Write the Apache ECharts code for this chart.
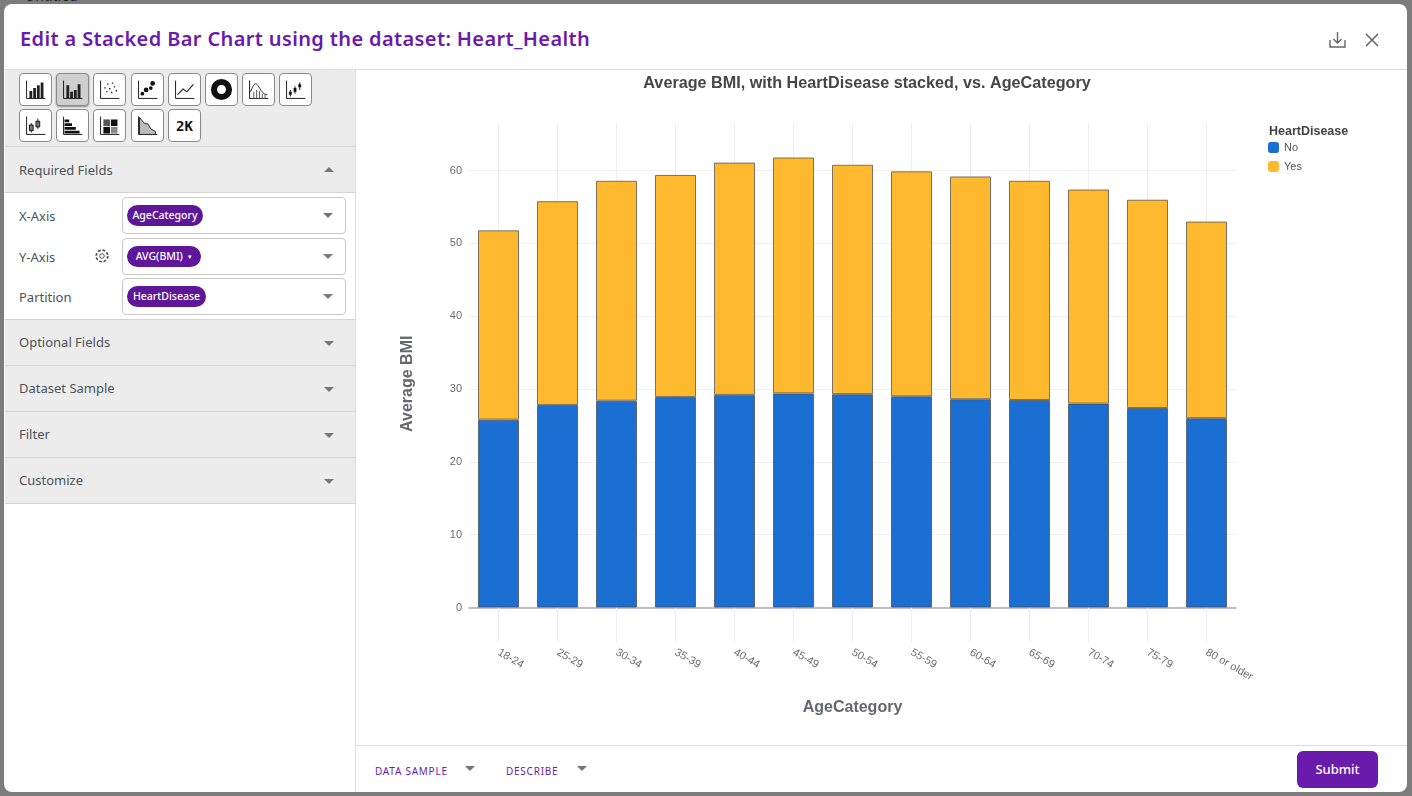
<!DOCTYPE html>
<html>
<head>
<meta charset="utf-8">
<script src="https://cdn.jsdelivr.net/npm/echarts@6/dist/echarts.min.js"></script>
<style>
html, body { margin: 0; padding: 0; width: 1412px; height: 796px; overflow: hidden; background: #7c7c7c; font-family: "Noto Sans", sans-serif; }
.abs { position: absolute; }
#modal { left: 4px; top: 4px; width: 1403px; height: 788px; background: #fff; border-radius: 8px; }
#heading { left: 20px; top: 25px; font-size: 20px; font-weight: 600; color: #6a1bab; letter-spacing: 0.37px; white-space: nowrap; line-height: 28px; }
#side { left: 5px; top: 70px; width: 350px; height: 434px; background: #ececec; }
.line { background: #dcdcdc; }
.ibtn { width: 31px; height: 31px; border: 1px solid #8a8a8a; border-radius: 4px; background: #fff; }
.ibtn.on { background: #cfcfcf; box-shadow: 0 1px 2px #888; }
.ibtn svg { display: block; }
.sec { left: 19px; font-size: 13px; color: #4c5358; line-height: 20px; white-space: nowrap; }
.tri { width: 0; height: 0; border-left: 5px solid transparent; border-right: 5px solid transparent; border-top: 5px solid #777; }
.tri.up { border-top: 0; border-bottom: 5px solid #777; }
.box { left: 122px; width: 222px; border: 1px solid #c9c9c9; border-radius: 4px; background: #fff; }
.pill { background: #5f1799; color: #fff; font-size: 10.5px; font-weight: 500; height: 21px; line-height: 21px; border-radius: 11px; white-space: nowrap; text-align: center; }
.foot { font-size: 10px; letter-spacing: 0.75px; color: #6a1bab; white-space: nowrap; line-height: 14px; }
#submit { left: 1297px; top: 751px; width: 81px; height: 37px; background: #6a1bab; color: #fff; border-radius: 6px; font-size: 13px; font-weight: 500; line-height: 37px; text-align: center; }
#main { left: 356px; top: 70px; width: 1051px; height: 675px; }
</style>
</head>
<body>
<div class="abs" style="left:25px;top:-14px;font-size:14px;color:#222">Untitled</div>
<div class="abs" id="modal"></div>
<div class="abs" id="heading">Edit a Stacked Bar Chart using the dataset: Heart_Health</div>
<svg class="abs" style="left:1328px;top:30px" width="20" height="20" fill="none" stroke="#666" stroke-width="1.4"><path d="M2 10v7h15v-7M9.5 2v11M5.5 9l4 4 4-4"/></svg>
<svg class="abs" style="left:1364px;top:32px" width="16" height="16" fill="none" stroke="#666" stroke-width="1.5"><path d="M2 2l12 12M14 2L2 14"/></svg>
<div class="abs line" style="left:4px;top:69px;width:1403px;height:1px"></div>
<div class="abs" id="side"></div>
<div class="abs line" style="left:355px;top:70px;width:1px;height:722px"></div>
<div class="abs line" style="left:356px;top:745px;width:1051px;height:1px"></div>
<div id="ui"></div>
<div class="abs foot" style="left:375px;top:764px">DATA SAMPLE</div>
<div class="abs tri" style="left:465px;top:766px"></div>
<div class="abs foot" style="left:506px;top:764px">DESCRIBE</div>
<div class="abs tri" style="left:577px;top:766px"></div>
<div class="abs" id="submit">Submit</div>
<div class="abs" id="main"></div>
<script>
// chart data
var ageCategories = ['18-24', '25-29', '30-34', '35-39', '40-44', '45-49', '50-54', '55-59', '60-64', '65-69', '70-74', '75-79', '80 or older'];
var noValues = [25.8, 27.8, 28.4, 28.9, 29.2, 29.4, 29.3, 29.0, 28.6, 28.5, 28.0, 27.4, 26.0];
var yesValues = [26.0, 28.0, 30.2, 30.5, 31.9, 32.4, 31.5, 30.9, 30.6, 30.1, 29.4, 28.6, 27.0];

// side panel
var axisL = '<path d="M7 7v19h20" fill="none" stroke="#111" stroke-width="1"/>';
var icons = [
    axisL + '<path d="M10 18h3v8h-3zM14 15h3v11h-3zM18 12h3v14h-3zM22 9h3v17h-3z" fill="#222"/>',
    axisL + '<path d="M10 12h3v14h-3zM14 19h3v7h-3zM18 17h3v9h-3zM22 11h3v15h-3z" fill="#222"/>',
    axisL + '<path d="M11 14h1.5v1.5h-1.5zM14 10h1.5v1.5h-1.5zM16 15h1.5v1.5h-1.5zM19 9h1.5v1.5h-1.5zM21 13h1.5v1.5h-1.5zM23 17h1.5v1.5h-1.5zM13 18h1.5v1.5h-1.5zM18 19h1.5v1.5h-1.5z" fill="#222"/>',
    axisL + '<g fill="#111"><circle cx="11" cy="21" r="2"/><circle cx="15" cy="17" r="2.5"/><circle cx="20" cy="15" r="2"/><circle cx="22" cy="10" r="2.5"/></g>',
    axisL + '<path d="M9 22l6-6 4 3 7-8" fill="none" stroke="#222" stroke-width="1.2"/>',
    '<circle cx="16.5" cy="16.5" r="8" fill="none" stroke="#111" stroke-width="6.5"/>',
    axisL + '<path d="M8 19c4-11 6-10 9-5s5 8 9 8" fill="none" stroke="#222"/><path d="M11 19h1v7h-1zM14 17h1v9h-1zM17 18h1v8h-1zM20 21h1v5h-1zM23 22h1v4h-1z" fill="#555"/>',
    axisL + '<path d="M11 17v7M16 13v8M21 9v8" stroke="#111"/><path d="M9.5 19h3v3h-3zM14.5 15h3v4h-3zM19.5 11h3v3h-3z" fill="#111"/>',
    axisL + '<path d="M12 14v10M19 9v11" stroke="#111"/><path d="M10 16h4v6h-4zM17 12h4v6h-4z" fill="#777" stroke="#111"/>',
    axisL + '<path d="M8 10h5v3H8zM8 14h8v3H8zM8 18h12v3H8zM8 22h16v3H8z" fill="#111"/>',
    axisL + '<path d="M10 10h7v7h-7z" fill="#555"/><path d="M18 10h7v7h-7zM10 18h7v7h-7z" fill="#111"/><path d="M18 18h7v7h-7z" fill="#888"/>',
    axisL + '<path d="M8 8l5 6 4 1 3 5 5 3v3H8z" fill="#bbb" stroke="#222"/>',
    '<text x="16.5" y="22" text-anchor="middle" font-family="DejaVu Sans Mono" font-weight="bold" font-size="15" fill="#111">2K</text>'
];
var iconX = [19, 56, 93, 131, 168, 205, 242, 279, 19, 56, 93, 131, 168];
var sections = [['Optional Fields', 342], ['Dataset Sample', 388], ['Filter', 434], ['Customize', 480]];
var html = '';
icons.forEach(function(svg, i) {
    html += '<div class="abs ibtn' + (i == 1 ? ' on' : '') + '" style="left:' + iconX[i] + 'px;top:' + (i < 8 ? 73 : 109) + 'px"><svg width="31" height="31" viewBox="0 0 33 33">' + svg + '</svg></div>';
});
[146, 319, 365, 411, 457, 503].forEach(function(y) {
    html += '<div class="abs" style="left:5px;top:' + y + 'px;width:350px;height:1px;background:#d4d4d4"></div>';
});
html += '<div class="abs" style="left:5px;top:192px;width:350px;height:127px;background:#fff;border-top:1px solid #d4d4d4;box-sizing:border-box"></div>';
html += '<div class="abs sec" style="top:160px">Required Fields</div><div class="abs tri up" style="left:324px;top:167px"></div>';
sections.forEach(function(s) {
    html += '<div class="abs sec" style="top:' + (s[1] - 10) + 'px">' + s[0] + '</div><div class="abs tri" style="left:324px;top:' + (s[1] - 1) + 'px"></div>';
});
[['X-Axis', 197, 'AgeCategory', 76], ['Y-Axis', 238, 'AVG(BMI)', 74], ['Partition', 278, 'HeartDisease', 79]].forEach(function(f) {
    html += '<div class="abs sec" style="top:' + (f[1] + 9) + 'px">' + f[0] + '</div>';
    html += '<div class="abs box" style="top:' + f[1] + 'px;height:' + 35 + 'px"></div>';
    html += '<div class="abs pill" style="left:127px;top:' + (f[1] + 8) + 'px;width:' + f[3] + 'px">' + f[2] + (f[3] == 74 ? ' &nbsp;<span style="font-size:7px;vertical-align:1px">&#9662;</span>' : '') + '</div>';
    html += '<div class="abs tri" style="left:323px;top:' + (f[1] + 16) + 'px"></div>';
});
html += '<svg class="abs" style="left:94px;top:248px" width="16" height="16" fill="none" stroke="#555"><circle cx="8" cy="8" r="2.3"/><circle cx="8" cy="8" r="5.8" stroke-width="1.8" stroke-dasharray="2.8 1.7"/></svg>';
document.getElementById('ui').innerHTML = html;

// chart
var myChart = echarts.init(document.getElementById('main'));
var chartFont = '"Liberation Sans", Arial, sans-serif';
var barBorder = { borderColor: 'rgba(70,70,70,0.7)', borderWidth: 1 };

var option = {
    animation: false,
    textStyle: { fontFamily: chartFont },
    title: [{
        text: 'Average BMI, with HeartDisease stacked, vs. AgeCategory',
        left: 506,
        top: 1,
        textAlign: 'center',
        textStyle: { fontSize: 16.2, fontWeight: 'bold', color: '#464646', fontFamily: chartFont }
    }, {
        text: 'HeartDisease',
        left: 908,
        top: 50,
        textStyle: { fontSize: 12.5, fontWeight: 'bold', color: '#444', fontFamily: chartFont }
    }],
    legend: {
        orient: 'vertical',
        left: 907,
        top: 67,
        itemWidth: 11,
        itemHeight: 11,
        itemGap: 8,
        icon: 'roundRect',
        data: ['No', 'Yes'],
        itemStyle: { borderWidth: 0 },
        textStyle: { fontSize: 11, color: '#555', fontFamily: chartFont }
    },
    grid: { left: 113, right: 171, top: 54, bottom: 137.5 },
    xAxis: {
        type: 'category',
        data: ageCategories,
        name: 'AgeCategory',
        nameLocation: 'middle',
        nameGap: 92,
        nameTextStyle: { fontSize: 16, fontWeight: 'bold', color: '#666670' },
        axisLine: { lineStyle: { color: '#aaaab2', width: 1.5 } },
        axisTick: { show: true, alignWithLabel: true, length: 35, lineStyle: { color: '#eeeeee' } },
        splitLine: { show: true, alignWithLabel: true, lineStyle: { color: '#eeeeee' } },
        axisLabel: { rotate: -30, margin: 44, fontSize: 11, color: '#6b6b75', interval: 0 }
    },
    yAxis: {
        type: 'value',
        min: 0,
        max: 66.4,
        interval: 10,
        name: 'Average BMI',
        nameLocation: 'middle',
        nameGap: 53,
        nameTextStyle: { fontSize: 16, fontWeight: 'bold', color: '#666670', padding: [0, 36, 0, 0] },
        axisLine: { show: false },
        axisTick: { show: false },
        splitLine: { showMaxLine: false, lineStyle: { color: '#f0f0f0' } },
        axisLabel: { showMaxLabel: false, margin: 7, fontSize: 11, color: '#6b6b75' }
    },
    series: [{
        name: 'No',
        type: 'bar',
        stack: 'HeartDisease',
        barWidth: 41,
        data: noValues,
        itemStyle: Object.assign({ color: '#1b6fd3' }, barBorder)
    }, {
        name: 'Yes',
        type: 'bar',
        stack: 'HeartDisease',
        barWidth: 41,
        data: yesValues,
        itemStyle: Object.assign({ color: '#feb92f' }, barBorder)
    }]
};
myChart.setOption(option);
</script>
</body>
</html>
